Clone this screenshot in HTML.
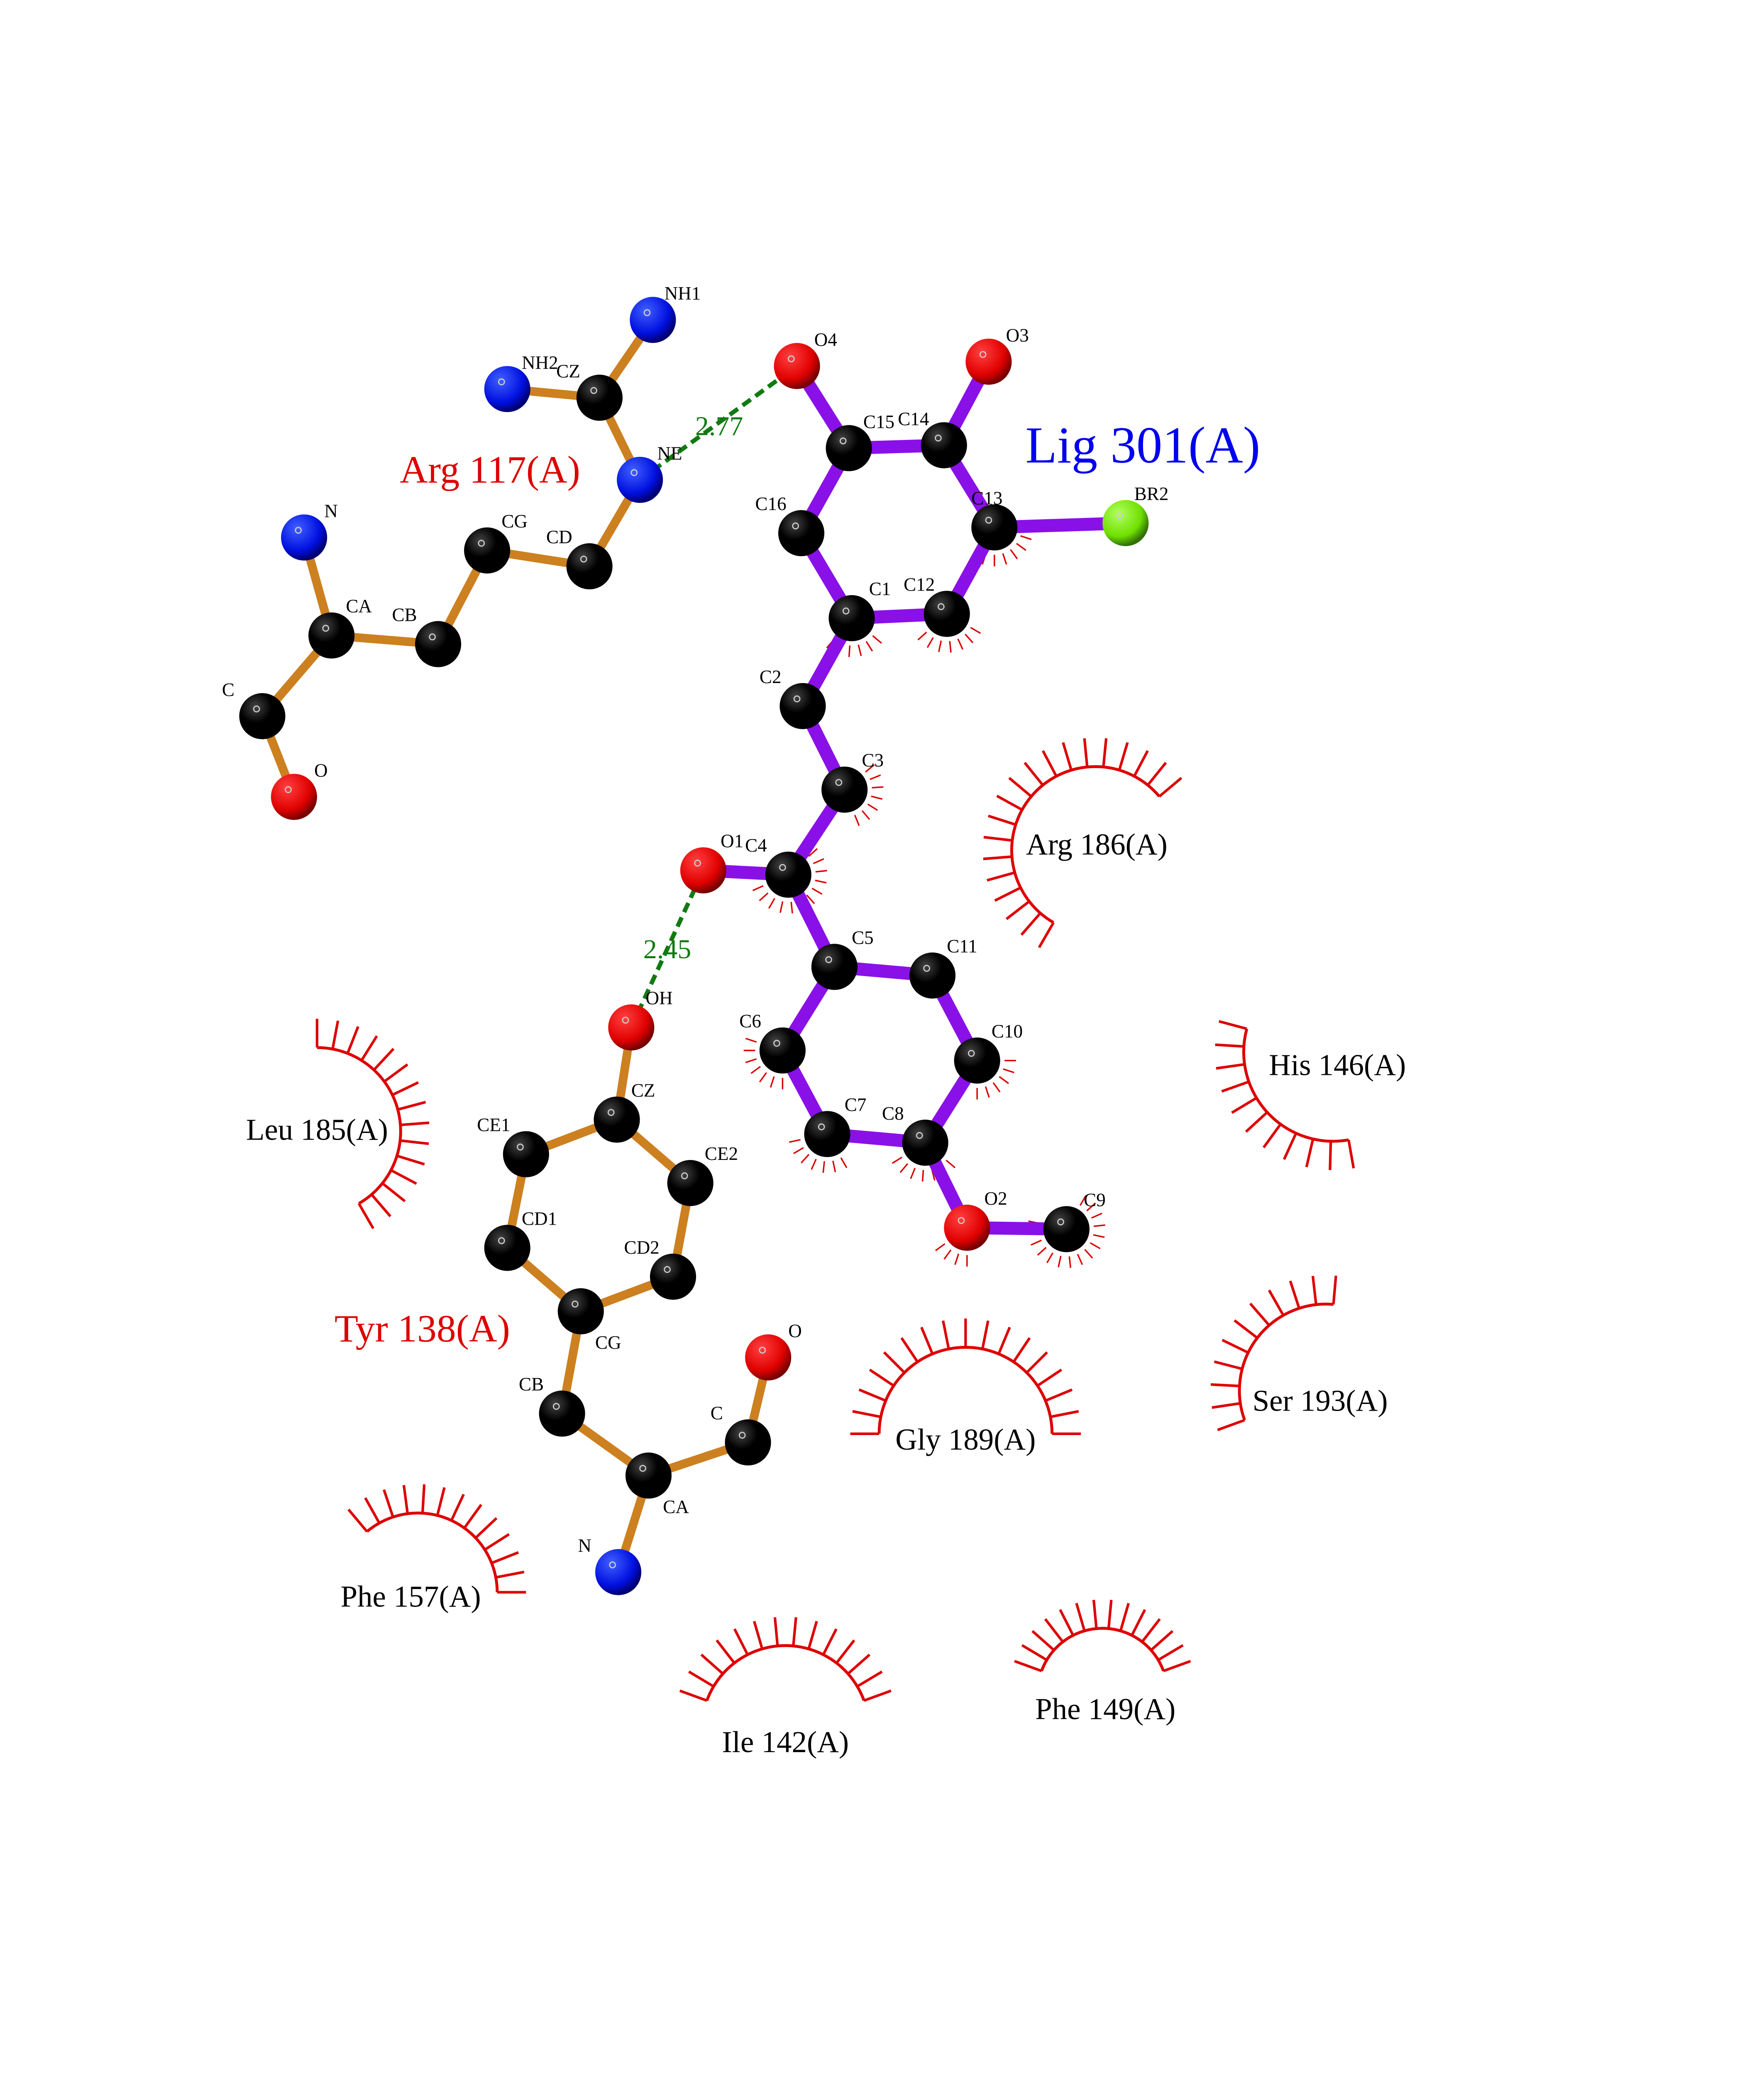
<!DOCTYPE html>
<html><head><meta charset="utf-8"><style>
html,body{margin:0;padding:0;background:#fff;width:4250px;height:5500px;overflow:hidden;}
svg{display:block;position:absolute;left:0;top:0;}
text{font-family:"Liberation Serif",serif;}
</style></head><body>
<svg id="s" width="4250" height="5500" viewBox="0 0 1224 1584" xmlns="http://www.w3.org/2000/svg">
<defs>
<radialGradient id="gk" cx="35%" cy="30%" r="70%"><stop offset="0" stop-color="#444"/><stop offset="0.5" stop-color="#000"/></radialGradient>
<radialGradient id="gr" cx="35%" cy="30%" r="70%"><stop offset="0" stop-color="#ff4040"/><stop offset="0.7" stop-color="#e00000"/><stop offset="1" stop-color="#700"/></radialGradient>
<radialGradient id="gb" cx="35%" cy="30%" r="70%"><stop offset="0" stop-color="#4060ff"/><stop offset="0.7" stop-color="#0010e0"/><stop offset="1" stop-color="#000070"/></radialGradient>
<radialGradient id="gg" cx="35%" cy="30%" r="70%"><stop offset="0" stop-color="#b0ff60"/><stop offset="0.7" stop-color="#70e000"/><stop offset="1" stop-color="#307000"/></radialGradient>
</defs>
<g id="arcs"></g><g id="bonds"></g><g id="atoms"></g><g id="labels"></g>
<text x="60" y="1470" font-size="14">.</text>
</svg>
<script>
const NS="http://www.w3.org/2000/svg";
function el(p,t,a,txt){const e=document.createElementNS(NS,t);for(const k in a)e.setAttribute(k,a[k]);if(txt!==undefined)e.textContent=txt;document.getElementById(p).appendChild(e);return e;}
const A={
a_NH1:[453,222,'b','NH1',8,-14],a_NH2:[352,270,'b','NH2',10,-14],a_CZ:[416,276,'k','CZ',-30,-14],a_NE:[444,333,'b','NE',12,-14],a_CD:[409,393,'k','CD',-30,-16],a_CG:[338,382,'k','CG',10,-16],a_CB:[304,447,'k','CB',-32,-16],a_CA:[230,441,'k','CA',10,-16],a_N:[211,373,'b','N',14,-14],a_C:[182,497,'k','C',-28,-14],a_O:[204,553,'r','O',14,-14],
O4:[553,254,'r','O4',12,-14],C15:[589,311,'k','C15',10,-14],C14:[655,309,'k','C14',-32,-14],O3:[686,251,'r','O3',12,-14],C13:[690,366,'k','C13',-16,-16],BR2:[781,363,'g','BR2',6,-16],C12:[657,426,'k','C12',-30,-16],C1:[591,429,'k','C1',12,-16],C16:[556,370,'k','C16',-32,-16],C2:[557,490,'k','C2',-30,-16],C3:[586,548,'k','C3',12,-16],C4:[547,607,'k','C4',-30,-16],O1:[488,604,'r','O1',12,-16],C5:[579,671,'k','C5',12,-16],C11:[647,677,'k','C11',10,-16],C10:[678,736,'k','C10',10,-16],C8:[642,793,'k','C8',-30,-16],C7:[574,787,'k','C7',12,-16],C6:[543,729,'k','C6',-30,-16],O2:[671,852,'r','O2',12,-16],C9:[740,853,'k','C9',12,-16],
t_OH:[438,713,'r','OH',10,-16],t_CZ:[428,777,'k','CZ',10,-16],t_CE1:[365,801,'k','CE1',-34,-16],t_CE2:[479,821,'k','CE2',10,-16],t_CD1:[352,866,'k','CD1',10,-16],t_CD2:[467,886,'k','CD2',-34,-16],t_CG:[403,910,'k','CG',10,26],t_CB:[390,981,'k','CB',-30,-16],t_CA:[450,1024,'k','CA',10,26],t_C:[519,1001,'k','C',-26,-16],t_O:[533,942,'r','O',14,-14],t_N:[429,1091,'b','N',-28,-14]};
const orange=[['a_NH1','a_CZ'],['a_NH2','a_CZ'],['a_CZ','a_NE'],['a_NE','a_CD'],['a_CD','a_CG'],['a_CG','a_CB'],['a_CB','a_CA'],['a_CA','a_N'],['a_CA','a_C'],['a_C','a_O'],
['t_OH','t_CZ'],['t_CZ','t_CE1'],['t_CZ','t_CE2'],['t_CE1','t_CD1'],['t_CE2','t_CD2'],['t_CD1','t_CG'],['t_CD2','t_CG'],['t_CG','t_CB'],['t_CB','t_CA'],['t_CA','t_C'],['t_C','t_O'],['t_CA','t_N']];
const purple=[['O4','C15'],['C15','C14'],['C14','O3'],['C14','C13'],['C13','BR2'],['C13','C12'],['C12','C1'],['C1','C16'],['C16','C15'],['C1','C2'],['C2','C3'],['C3','C4'],['C4','O1'],['C4','C5'],['C5','C11'],['C11','C10'],['C10','C8'],['C8','C7'],['C7','C6'],['C6','C5'],['C8','O2'],['O2','C9']];
orange.forEach(([a,b])=>el('bonds','line',{x1:A[a][0],y1:A[a][1],x2:A[b][0],y2:A[b][1],stroke:'#cc8020','stroke-width':6}));
purple.forEach(([a,b])=>el('bonds','line',{x1:A[a][0],y1:A[a][1],x2:A[b][0],y2:A[b][1],stroke:'#8a10e8','stroke-width':9}));
[['a_NE','O4'],['t_OH','O1']].forEach(([a,b])=>el('bonds','line',{x1:A[a][0],y1:A[a][1],x2:A[b][0],y2:A[b][1],stroke:'#117a11','stroke-width':3,'stroke-dasharray':'7,4'}));
const fills={k:'url(#gk)',r:'url(#gr)',b:'url(#gb)',g:'url(#gg)'};
for(const k in A){const[x,y,c,l,dx,dy]=A[k];el('atoms','circle',{cx:x,cy:y,r:16,fill:fills[c]});el('atoms','circle',{cx:x-4,cy:y-5,r:2,fill:'none',stroke:'#ccc','stroke-width':0.8});el('labels','text',{x:x+dx,y:y+dy,'font-size':13},l);}
el('labels','text',{x:499,y:302,'font-size':19,fill:'#117a11','text-anchor':'middle'},'2.77');
el('labels','text',{x:463,y:665,'font-size':19,fill:'#117a11','text-anchor':'middle'},'2.45');
el('labels','text',{x:340,y:335,'font-size':27,fill:'#dd0000','text-anchor':'middle'},'Arg 117(A)');
el('labels','text',{x:793,y:321,'font-size':36,fill:'#0000ee','text-anchor':'middle'},'Lig 301(A)');
el('labels','text',{x:293,y:931,'font-size':27,fill:'#dd0000','text-anchor':'middle'},'Tyr 138(A)');
const H=[['Arg 186(A)',761,593,760,590,58,-240,-40],['His 146(A)',928,746,925,730,62,80,195],['Leu 185(A)',220,791,220,785,58,-90,60],['Gly 189(A)',670,1006,670,995,60,-180,0],['Ser 193(A)',916,979,920,965,60,-200,-85],['Phe 157(A)',285,1115,290,1105,55,-130,0],['Ile 142(A)',545,1216,545,1200,58,-160,-20],['Phe 149(A)',767,1193,765,1175,45,-160,-20]];
H.forEach(([t,lx,ly,cx,cy,r,a0,a1])=>{const rad=d=>d*Math.PI/180;const p0=[cx+r*Math.cos(rad(a0)),cy+r*Math.sin(rad(a0))],p1=[cx+r*Math.cos(rad(a1)),cy+r*Math.sin(rad(a1))];
el('arcs','path',{d:`M${p0[0]},${p0[1]} A${r},${r} 0 ${a1-a0>180?1:0} 1 ${p1[0]},${p1[1]}`,fill:'none',stroke:'#dd0000','stroke-width':2});
const n=Math.round((a1-a0)/11);for(let i=0;i<=n;i++){const a=rad(a0+(a1-a0)*i/n);el('arcs','line',{x1:cx+r*Math.cos(a),y1:cy+r*Math.sin(a),x2:cx+(r+20)*Math.cos(a),y2:cy+(r+20)*Math.sin(a),stroke:'#dd0000','stroke-width':1.8});}
el('labels','text',{x:lx,y:ly,'font-size':21,'text-anchor':'middle'},t);});
[['C13',0,120],['C12',30,150],['C1',40,140],['C3',-40,80],['C4',-60,160],['C6',90,200],['C7',60,180],['C8',40,160],['C10',0,100],['C9',-60,200],['O2',90,160]].forEach(([k,a0,a1])=>{const[x,y]=A[k];for(let a=a0;a<=a1;a+=18){const r=a*Math.PI/180;el('arcs','line',{x1:x+19*Math.cos(r),y1:y+19*Math.sin(r),x2:x+27*Math.cos(r),y2:y+27*Math.sin(r),stroke:'#dd0000','stroke-width':1});}});
</script>
</body></html>
